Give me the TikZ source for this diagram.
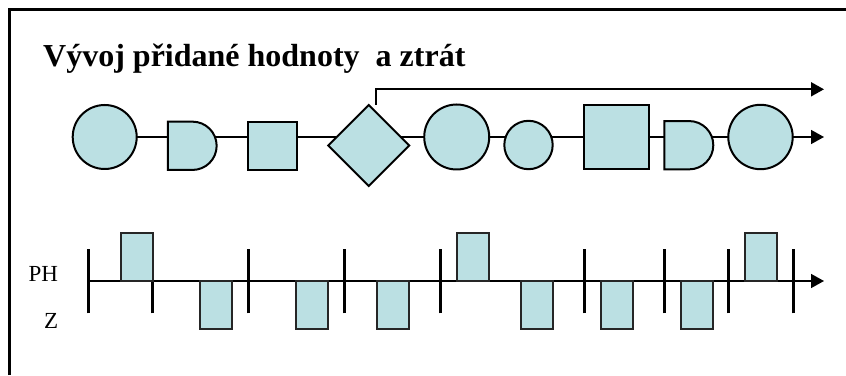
\documentclass[tikz,border=0pt]{standalone}
\usepackage{fontspec}
\setmainfont{Liberation Serif}
\usetikzlibrary{arrows.meta,shapes.geometric,backgrounds}
\definecolor{fillc}{RGB}{187,224,227}
\begin{document}
\begin{tikzpicture}[x=1pt,y=1pt,
  shp/.style={draw=black, line width=2pt, fill=fillc, inner sep=0pt, outer sep=0pt},
  circ/.style={shp, circle, minimum size=#1},
  sqr/.style 2 args={shp, rectangle, minimum width=#1, minimum height=#2},
  dbox/.style 2 args={rectangle, inner sep=0pt, outer sep=0pt, minimum width=#1, minimum height=#2},
  conn/.style={draw=black, line width=1.6pt},
  tip/.style={-{Triangle[length=13pt,width=14pt]}},
  tick/.style={draw=black, line width=3pt},
  bar/.style={draw=black!85, line width=2pt, fill=fillc, rectangle, inner sep=0pt, outer sep=0pt, minimum width=32pt, minimum height=48pt},
  lbl/.style={font=\fontsize{23}{27}\selectfont, inner sep=0pt, anchor=base east}
]
\useasboundingbox (0,0) rectangle (846,375);
% frame
\draw[line width=2.5pt] (9.5,0) -- (9.5,365.5) -- (846,365.5);
% title
\node[anchor=base west, inner sep=0pt, font=\fontsize{32}{38}\selectfont\bfseries] (title) at (43,308) {Vývoj přidané hodnoty \ a ztrát};

% top row shapes
\node[circ=64pt] (c1) at (104.7,238) {};
\node[dbox={48.7pt}{48.3pt}] (d1) at (192.3,229.2) {};
\draw[shp] (d1.north west) -- ++(24.55,0) arc[start angle=90, end angle=-90, radius=24.15] -- (d1.south west) -- cycle;
\node[sqr={48.7pt}{48.3pt}] (s1) at (272.3,229.2) {};
\node[shp, diamond, minimum width=81pt, minimum height=81pt, aspect=1] (dm) at (368.7,229.5) {};
\node[circ=65pt] (c2) at (456.7,238) {};
\node[circ=48.4pt] (sc) at (528.5,230) {};
\node[sqr={65pt}{64.3pt}] (bs) at (616.8,237.8) {};
\node[dbox={49pt}{48.3pt}] (d2) at (688.8,229.8) {};
\draw[shp] (d2.north west) -- ++(24.85,0) arc[start angle=90, end angle=-90, radius=24.15] -- (d2.south west) -- cycle;
\node[circ=64.4pt] (c3) at (760.5,238) {};
\coordinate (endA) at (824,238);
\coordinate (br0) at (376,270);
\coordinate (endB) at (824,285.7);

\begin{scope}[on background layer]
  \foreach \a/\b in {c1/d1, d1/s1, s1/dm, dm/c2, c2/sc, sc/bs, bs/d2, d2/c3}
    \draw[conn] (\a.center |- c1.center) -- (\b.center |- c1.center);
\end{scope}
\draw[conn, tip] (c3.east) -- (endA);
\draw[conn, line width=2pt, tip] (br0) |- (endB);

% lower row
\coordinate (ax0) at (88,94);
\coordinate (ax1) at (824,94);
\draw[conn, tip] (ax0) -- (ax1);
\foreach \x in {88,152.3,248.3,344.3,440.7,584.3,664.3,728.3,793.3}
  \draw[tick] (\x,61.7) -- (\x,125.7);
\node[bar, anchor=south west] (u1) at (120.7,94) {};
\node[bar, anchor=south west] (u2) at (456.7,94) {};
\node[bar, anchor=south west] (u3) at (745,94) {};
\node[bar, anchor=north west] (z1) at (200,94) {};
\node[bar, anchor=north west] (z2) at (296.3,94) {};
\node[bar, anchor=north west] (z3) at (376.5,94) {};
\node[bar, anchor=north west] (z4) at (520.7,94) {};
\node[bar, anchor=north west] (z5) at (600.8,94) {};
\node[bar, anchor=north west] (z6) at (680.8,94) {};
\node[lbl] (ph) at (58.3,93.3) {PH};
\node[lbl] (zl) at (58.3,46) {Z};
\end{tikzpicture}
\end{document}
